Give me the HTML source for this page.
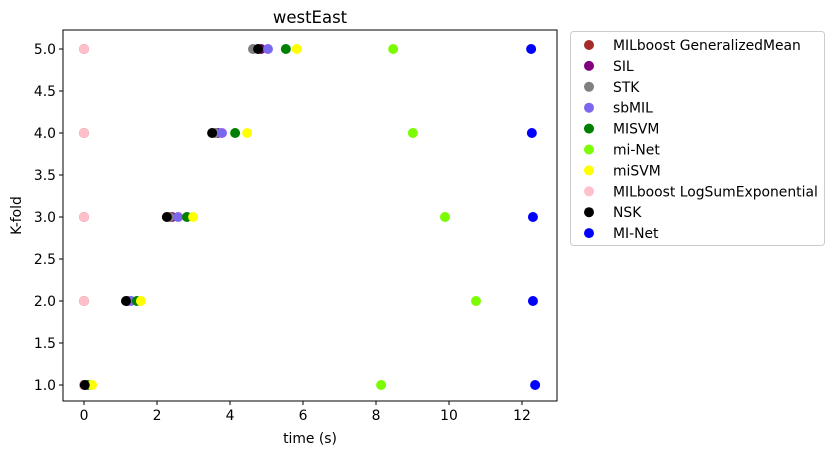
<!DOCTYPE html>
<html><head><meta charset="utf-8"><style>
body{margin:0;background:#fff;font-family:"Liberation Sans","DejaVu Sans",sans-serif;}
svg text{font-family:"DejaVu Sans","Liberation Sans",sans-serif;}
</style></head><body>
<svg id="chart" width="834" height="455" xmlns="http://www.w3.org/2000/svg"></svg>
<script>
const seriesNames=["MILboost GeneralizedMean","SIL","STK","sbMIL","MISVM","mi-Net","miSVM","MILboost LogSumExponential","NSK","MI-Net"];
const seriesColors=["#a52a2a","#800080","#808080","#7b68ee","#008000","#7cfc00","#ffff00","#ffc0cb","#000000","#0000ff"];
const folds=[1,2,3,4,5];
const tMILboostGM=[0,0,0,0,0];
const tSIL=[0.02,1.2,2.41,3.67,4.85];
const tSTK=[0.02,1.18,2.35,3.6,4.63];
const tSbMIL=[0.05,1.29,2.58,3.78,5.04];
const tMISVM=[0.1,1.45,2.82,4.14,5.53];
const tMiNet=[8.14,10.74,9.89,9.01,8.47];
const tMiSVM=[0.22,1.56,2.99,4.47,5.83];
const tMILboostLSE=[0,0,0,0,0];
const tNSK=[0.02,1.15,2.27,3.51,4.77];
const tMINet=[12.36,12.3,12.3,12.27,12.25];
const seriesTimes=[tMILboostGM,tSIL,tSTK,tSbMIL,tMISVM,tMiNet,tMiSVM,tMILboostLSE,tNSK,tMINet];
const xTicks=[0,2,4,6,8,10,12];
const yTicks=[1.0,1.5,2.0,2.5,3.0,3.5,4.0,4.5,5.0];

const NS="http://www.w3.org/2000/svg";
const svg=document.getElementById('chart');
const L=63,R=557,T=30,B=401;
const xs=v=>84+v*36.5;
const ys=v=>385-(v-1)*84;
function mk(tag,attrs,parent){const e=document.createElementNS(NS,tag);for(const k in attrs)e.setAttribute(k,attrs[k]);(parent||svg).appendChild(e);return e;}

const title=mk('text',{x:(L+R)/2,y:23,'text-anchor':'middle','font-size':16.5,fill:'#000'});
title.textContent='westEast';



const marks=mk('g',{});


seriesTimes.forEach((arr,si)=>{
  arr.forEach((t,i)=>{
    const c=mk('circle',{cx:xs(t),cy:ys(folds[i]),r:5,fill:seriesColors[si]},marks);
    
    
  });
});

const frame=mk('rect',{x:L,y:T,width:R-L,height:B-T,fill:'none',stroke:'#000','stroke-width':1});



xTicks.forEach(v=>{
  mk('line',{x1:xs(v),x2:xs(v),y1:B,y2:B+4,stroke:'#000'});
  const t=mk('text',{x:xs(v),y:B+19,'text-anchor':'middle','font-size':13.9});
  t.textContent=String(v);
  
  
});
yTicks.forEach(v=>{
  mk('line',{x1:L-4,x2:L,y1:ys(v),y2:ys(v),stroke:'#000'});
  const t=mk('text',{x:L-7,y:ys(v)+5,'text-anchor':'end','font-size':13.9});
  t.textContent=v.toFixed(1);
  
  
});
const xt=mk('text',{x:(L+R)/2,y:443,'text-anchor':'middle','font-size':13.9});
xt.textContent='time (s)';


const yt=mk('text',{x:21,y:(T+B)/2,'text-anchor':'middle','font-size':13.9,transform:'rotate(-90 21 '+((T+B)/2)+')'});
yt.textContent='K-fold';



const lg=mk('g',{});


mk('rect',{x:570.5,y:31.5,width:254,height:214,rx:3,fill:'#fff',stroke:'#ccc'},lg);
seriesNames.forEach((n,i)=>{
  const y=45+i*20.9;
  const c=mk('circle',{cx:589,cy:y,r:5,fill:seriesColors[i]},lg);
  
  
  const t=mk('text',{x:613,y:y+5,'font-size':13.9},lg);
  t.textContent=n;
  
  
});
</script>
</body></html>
